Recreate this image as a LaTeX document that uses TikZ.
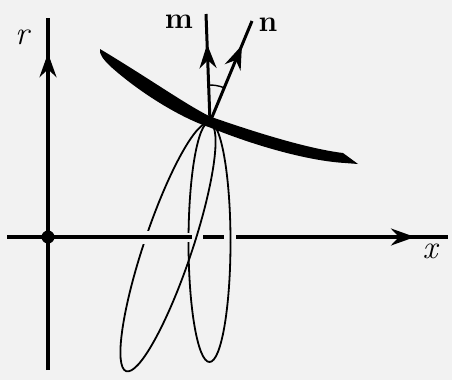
\documentclass[tikz,border=0pt]{standalone}
\usepackage{fontspec}
\usetikzlibrary{arrows.meta,decorations.markings}
\definecolor{paper}{HTML}{F2F2F2}
% the two loops through P, drawn again where they pass over the x axis
\newcommand\petals{%
  \draw[petal, rotate around={71.4:(L)}] (L) ellipse [x radius=131, y radius=24];
  \draw[petal] (R) ellipse [x radius=21, y radius=120];}

\begin{document}
\begin{tikzpicture}[x=1pt,y=-1pt,
  axis/.style={line width=3.3pt},
  vec/.style={line width=3pt},
  petal/.style={line width=1.8pt},
  midarrow/.style={postaction={decorate,decoration={markings,
      mark=at position #1 with {\arrow{Stealth[length=24pt,width=17pt,inset=8pt]}}}}},
  lbl/.style={inner sep=0pt, font=\fontsize{33}{35}\selectfont\itshape},
  vlbl/.style={inner sep=0pt, font=\fontsize{30}{32}\selectfont\bfseries}
]
\fill[paper] (0,0) rectangle (452,380);
\useasboundingbox (0,0) rectangle (452,380);

\coordinate (O) at (48,237);
\coordinate (P) at (210,122);
\coordinate (L) at (168,247);
\coordinate (R) at (209.5,242);
\coordinate (rtop) at (48,18);
\coordinate (rbot) at (48,370);
\coordinate (xl) at (7,237);
\coordinate (xr) at (448,237);
\coordinate (mtip) at (206,14);
\coordinate (ntip) at (252,21);

% loops, cut where they pass behind the axis
\petals
\draw[paper, line width=13pt] (140,237) -- (152,237);
\draw[paper, line width=9pt] (184,237) -- (192,237);

% axes
\draw[axis, midarrow=0.9] (rbot) -- (rtop);
\draw[axis, midarrow=0.925] (xl) -- (xr);
\fill (O) circle (6.5);

% loops in front of the axis
\fill[paper] (192,232) rectangle (203,242);
\fill[paper] (224,232) rectangle (236,242);
\begin{scope}
  \clip (192,232) rectangle (203,242) (224,232) rectangle (236,242);
  \petals
\end{scope}

% thick path through P
\fill (100,49) .. controls (150,79) and (185,104) .. (210,116.5)
  .. controls (260,134) and (310,149) .. (343,153) -- (358,164)
  -- (345,163) .. controls (310,161) and (258,147) .. (210,127.5)
  .. controls (181,118) and (140,93) .. (110,66)
  .. controls (103,59) and (99,54) .. (100,49) -- cycle;

% vectors m and n
\draw[vec, midarrow=0.72] (P) -- (mtip);
\draw[vec, midarrow=0.76] (P) -- (ntip);
\draw[line width=1.4pt] (P) ++(-92:37) arc[start angle=-92, end angle=-69, radius=37];

\node[lbl] (rlab) at (22,37) {r};
\node[lbl] (xlab) at (430,251) {x};
\node[vlbl] (mlab) at (179,22) {m};
\node[vlbl] (nlab) at (268,25) {n};
\end{tikzpicture}
\end{document}
